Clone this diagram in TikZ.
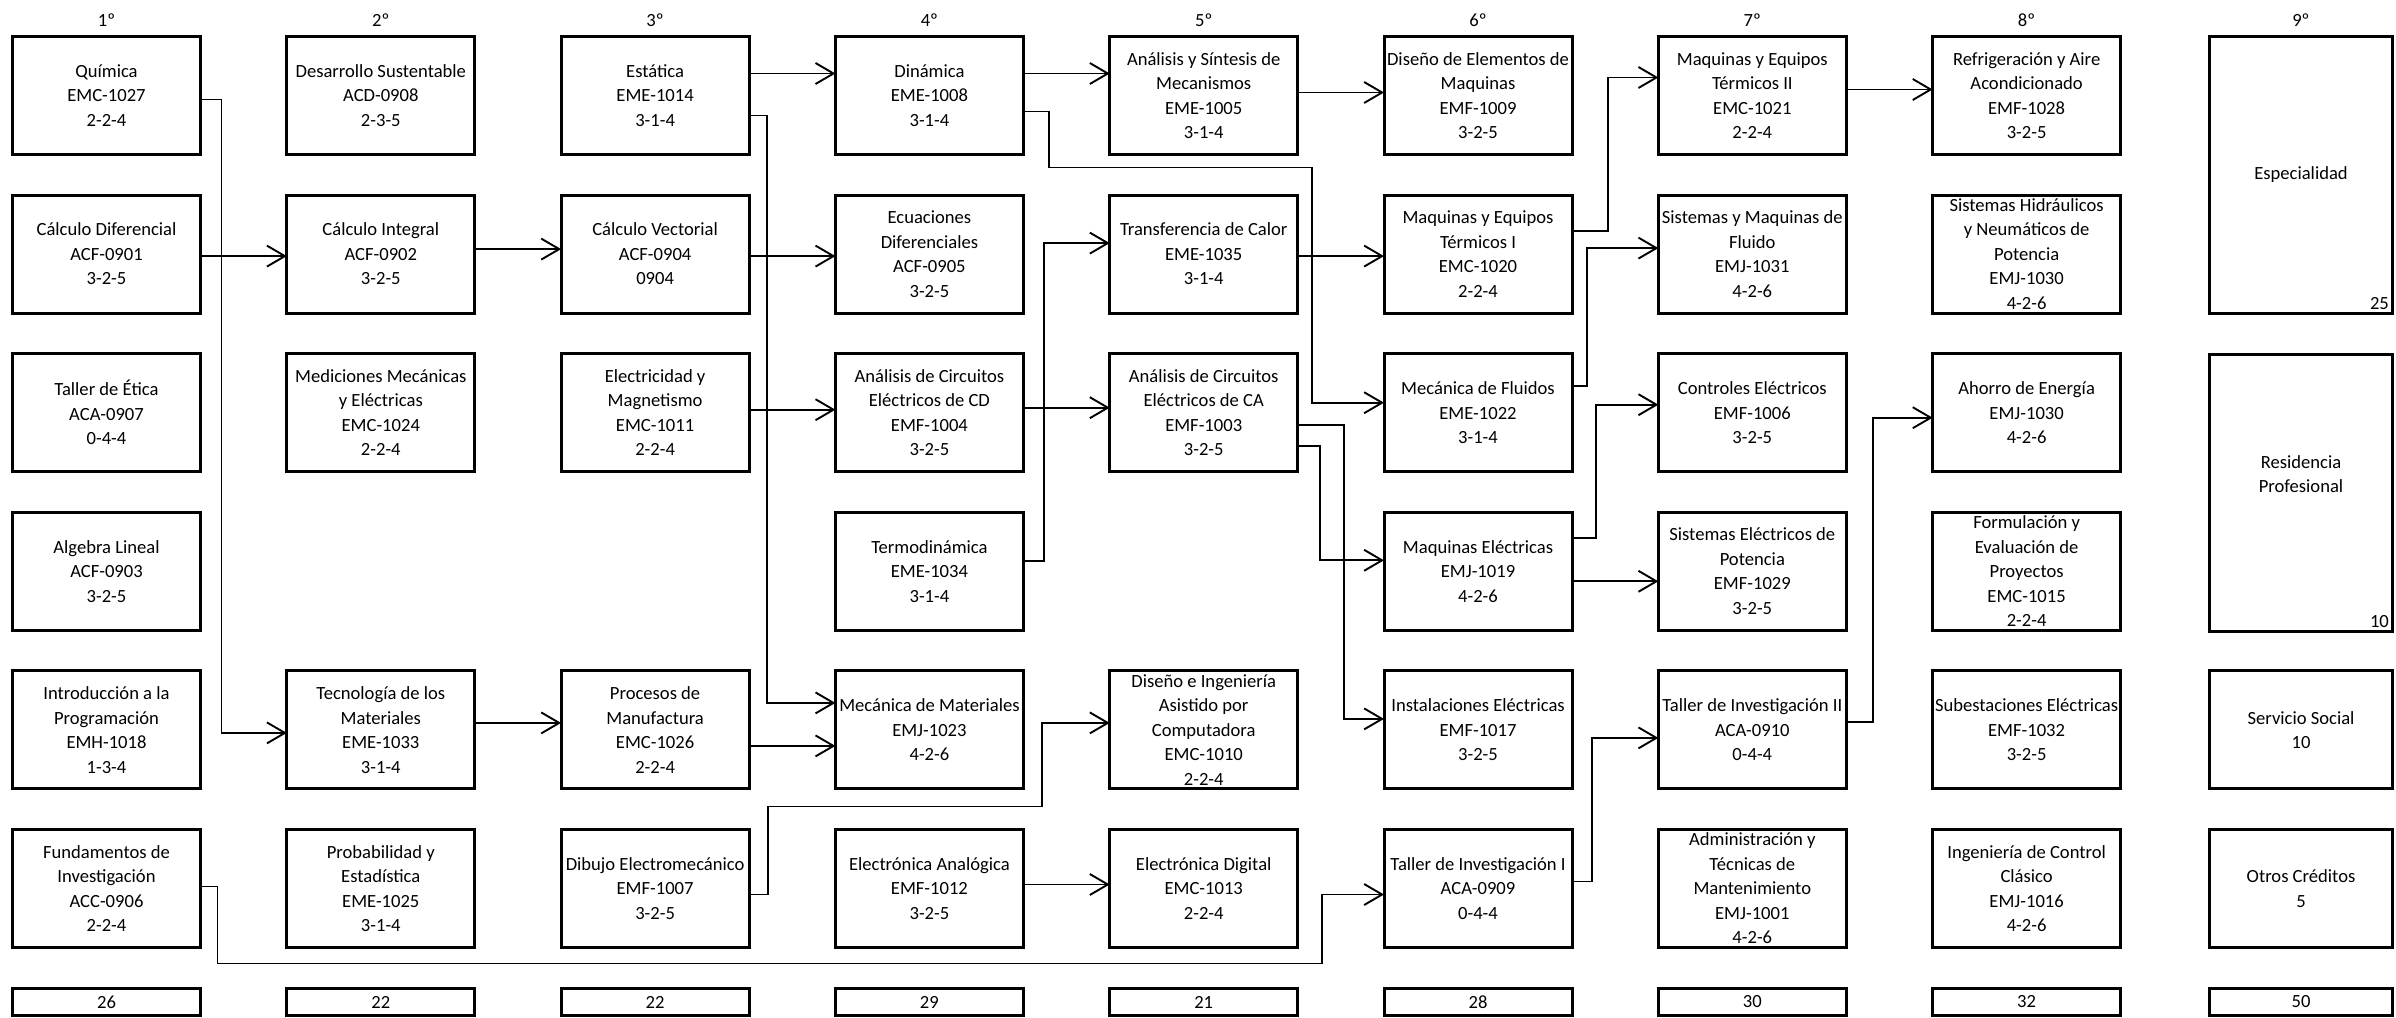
\documentclass[tikz,border=0pt]{standalone}
\usepackage{fontspec}
\setmainfont{Carlito}
\usetikzlibrary{arrows.meta,calc}

\begin{document}
\begin{tikzpicture}[x=0.5pt,y=-0.5pt,
    font=\fontsize{9.3}{12.25}\selectfont,
    course/.style={draw,line width=1.5pt,minimum width=94pt,minimum height=59pt,
      inner sep=0pt,outer sep=0pt,align=center},
    side/.style={course,minimum width=91.25pt},
    total/.style={draw,line width=1.5pt,minimum width=94pt,minimum height=13.5pt,
      inner sep=0pt,outer sep=0pt},
    req/.style={line width=0.95pt,-{Straight Barb[length=9pt,width=10.5pt]}}]
    \useasboundingbox (0,0) rectangle (2396,1017);

    % semesters
    \foreach \c/\h in {1/1º,2/2º,3/3º,4/4º,5/5º,6/6º,7/7º,8/8º,9/9º}
      \node (sem\c) at ({106.5+274.3*(\c-1)},20) {\h};

    % courses: name/semester/row/text
    \foreach \n/\c/\r/\t in {
      quim/1/1/Química\\EMC-1027\\2-2-4,
      cdif/1/2/Cálculo Diferencial\\ACF-0901\\3-2-5,
      etica/1/3/Taller de Ética\\ACA-0907\\0-4-4,
      alin/1/4/Algebra Lineal\\ACF-0903\\3-2-5,
      iprog/1/5/Introducción a la\\Programación\\EMH-1018\\1-3-4,
      finv/1/6/Fundamentos de\\Investigación\\ACC-0906\\2-2-4,
      dsus/2/1/Desarrollo Sustentable\\ACD-0908\\2-3-5,
      cint/2/2/Cálculo Integral\\ACF-0902\\3-2-5,
      medm/2/3/Mediciones Mecánicas\\y Eléctricas\\EMC-1024\\2-2-4,
      tmat/2/5/Tecnología de los\\Materiales\\EME-1033\\3-1-4,
      prob/2/6/Probabilidad y\\Estadística\\EME-1025\\3-1-4,
      est/3/1/Estática\\EME-1014\\3-1-4,
      cvec/3/2/Cálculo Vectorial\\ACF-0904\\0904,
      elmag/3/3/Electricidad y\\Magnetismo\\EMC-1011\\2-2-4,
      pman/3/5/Procesos de\\Manufactura\\EMC-1026\\2-2-4,
      dibe/3/6/Dibujo Electromecánico\\EMF-1007\\3-2-5,
      din/4/1/Dinámica\\EME-1008\\3-1-4,
      ecd/4/2/Ecuaciones\\Diferenciales\\ACF-0905\\3-2-5,
      acd/4/3/Análisis de Circuitos\\Eléctricos de CD\\EMF-1004\\3-2-5,
      termo/4/4/Termodinámica\\EME-1034\\3-1-4,
      mmat/4/5/Mecánica de Materiales\\EMJ-1023\\4-2-6,
      elan/4/6/Electrónica Analógica\\EMF-1012\\3-2-5,
      asm/5/1/Análisis y Síntesis de\\Mecanismos\\EME-1005\\3-1-4,
      tcal/5/2/Transferencia de Calor\\EME-1035\\3-1-4,
      aca/5/3/Análisis de Circuitos\\Eléctricos de CA\\EMF-1003\\3-2-5,
      dica/5/5/Diseño e Ingeniería\\Asistido por\\Computadora\\EMC-1010\\2-2-4,
      eldig/5/6/Electrónica Digital\\EMC-1013\\2-2-4,
      dem/6/1/Diseño de Elementos de\\Maquinas\\EMF-1009\\3-2-5,
      met1/6/2/Maquinas y Equipos\\Térmicos I\\EMC-1020\\2-2-4,
      mflu/6/3/Mecánica de Fluidos\\EME-1022\\3-1-4,
      mel/6/4/Maquinas Eléctricas\\EMJ-1019\\4-2-6,
      inst/6/5/Instalaciones Eléctricas\\EMF-1017\\3-2-5,
      tinv1/6/6/Taller de Investigación I\\ACA-0909\\0-4-4,
      met2/7/1/Maquinas y Equipos\\Térmicos II\\EMC-1021\\2-2-4,
      smf/7/2/Sistemas y Maquinas de\\Fluido\\EMJ-1031\\4-2-6,
      cel/7/3/Controles Eléctricos\\EMF-1006\\3-2-5,
      sep/7/4/Sistemas Eléctricos de\\Potencia\\EMF-1029\\3-2-5,
      tinv2/7/5/Taller de Investigación II\\ACA-0910\\0-4-4,
      adm/7/6/Administración y\\Técnicas de\\Mantenimiento\\EMJ-1001\\4-2-6,
      refr/8/1/Refrigeración y Aire\\Acondicionado\\EMF-1028\\3-2-5,
      shn/8/2/Sistemas Hidráulicos\\y Neumáticos de\\Potencia\\EMJ-1030\\4-2-6,
      ahe/8/3/Ahorro de Energía\\EMJ-1030\\4-2-6,
      fep/8/4/Formulación y\\Evaluación de\\Proyectos\\EMC-1015\\2-2-4,
      sube/8/5/Subestaciones Eléctricas\\EMF-1032\\3-2-5,
      icc/8/6/Ingeniería de Control\\Clásico\\EMJ-1016\\4-2-6} {
      \node[course] (\n) at ({106.5+274.3*(\c-1)},{95.5+158.6*(\r-1)}) {\t};
    }

    % last semester
    \node[side,minimum height=138.5pt] (esp) at (2301,175) {Especialidad};
    \node[side,minimum height=138.5pt] (resid) at (2301,493) {};
    \node[align=center] (residt) at (2301,474) {Residencia\\Profesional};
    \node[side] (ssoc) at (2301,729.9) {Servicio Social\\10};
    \node[side] (otros) at (2301,888.5) {Otros Créditos\\5};
    \node[anchor=south east,inner sep=0pt] (espn) at ($(esp.south east)+(-3,-3)$) {25};
    \node[anchor=south east,inner sep=0pt] (residn) at ($(resid.south east)+(-3,-3)$) {10};

    % credits per semester
    \foreach \c/\s in {1/26,2/22,3/22,4/29,5/21,6/28,7/30,8/32}
      \node[total] (tot\c) at ({106.5+274.3*(\c-1)},1002) {\s};
    \node[total,minimum width=91.25pt] (tot9) at (2301,1002) {50};

    % prerequisites
    \draw[req] ($(quim.east)+(0,4)$) -- ++(21,0) |- ($(tmat.west)+(0,3)$);
    \draw[req] ($(cdif.east)+(0,2)$) -- ($(cint.west)+(0,2)$);
    \draw[req] ($(cint.east)+(0,-5)$) -- ($(cvec.west)+(0,-5)$);
    \draw[req] ($(est.east)+(0,-22)$) -- ($(din.west)+(0,-22)$);
    \draw[req] ($(est.east)+(0,20)$) -- ++(18,0) |- ($(mmat.west)+(0,-27)$);
    \draw[req] ($(cvec.east)+(0,2)$) -- ($(ecd.west)+(0,2)$);
    \draw[req] ($(elmag.east)+(0,-3)$) -- ($(acd.west)+(0,-3)$);
    \draw[req] ($(tmat.east)+(0,-7)$) -- ($(pman.west)+(0,-7)$);
    \draw[req] ($(pman.east)+(0,16)$) -- ($(mmat.west)+(0,16)$);
    \draw[req] ($(dibe.east)+(0,6)$) -- ++(19,0) -- ++(0,-88) -| ($(dica.west)+(-68,-7)$) -- ($(dica.west)+(0,-7)$);
    \draw[req] ($(finv.east)+(0,-2)$) -- ++(17,0) -- ++(0,77) -| ($(tinv1.west)+(-62,6)$) -- ($(tinv1.west)+(0,6)$);
    \draw[req] ($(din.east)+(0,-22)$) -- ($(asm.west)+(0,-22)$);
    \draw[req] ($(din.east)+(0,16)$) -- ++(26,0) -- ++(0,56) -| ($(mflu.west)+(-72,-10)$) -- ($(mflu.west)+(0,-10)$);
    \draw[req] ($(asm.east)+(0,-3)$) -- ($(dem.west)+(0,-3)$);
    \draw[req] ($(termo.east)+(0,-10)$) -- ++(21,0) |- ($(tcal.west)+(0,-11)$);
    \draw[req] ($(acd.east)+(0,-5)$) -- ($(aca.west)+(0,-5)$);
    \draw[req] ($(tcal.east)+(0,2)$) -- ($(met1.west)+(0,2)$);
    \draw[req] ($(aca.east)+(0,12)$) -- ++(46,0) |- ($(inst.west)+(0,-11)$);
    \draw[req] ($(aca.east)+(0,33)$) -- ++(22,0) |- ($(mel.west)+(0,-11)$);
    \draw[req] ($(met1.east)+(0,-23)$) -- ++(36,0) |- ($(met2.west)+(0,-18)$);
    \draw[req] ($(mflu.east)+(0,-27)$) -- ++(15,0) |- ($(smf.west)+(0,-6)$);
    \draw[req] ($(mel.east)+(0,-33)$) -- ++(24,0) |- ($(cel.west)+(0,-8)$);
    \draw[req] ($(mel.east)+(0,10)$) -- ($(sep.west)+(0,10)$);
    \draw[req] ($(tinv1.east)+(0,-7)$) -- ++(20,0) |- ($(tinv2.west)+(0,8)$);
    \draw[req] ($(tinv2.east)+(0,-8)$) -- ++(27,0) |- ($(ahe.west)+(0,5)$);
    \draw[req] ($(met2.east)+(0,-6)$) -- ($(refr.west)+(0,-6)$);
    \draw[req] ($(elan.east)+(0,-4)$) -- ($(eldig.west)+(0,-4)$);
  \end{tikzpicture}
\end{document}
